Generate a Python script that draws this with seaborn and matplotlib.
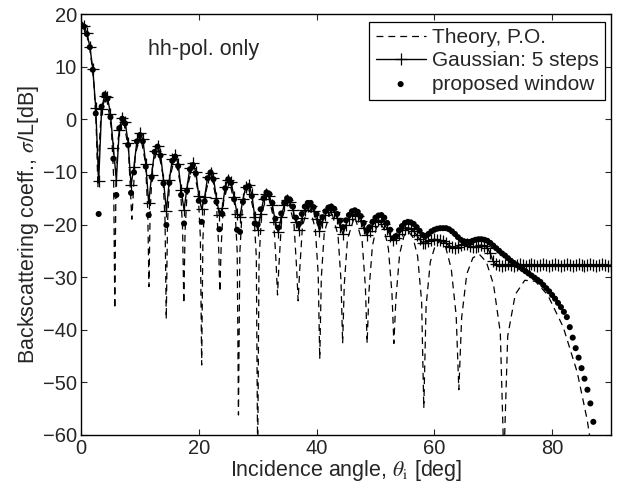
import numpy as np
import pandas as pd
import matplotlib
matplotlib.use("Agg")
import matplotlib.pyplot as plt
import seaborn as sns

# ---------------- data ----------------
# Theory, P.O. (dashed) : angle [deg], level [dB]
theory_angle = [
    0.00, 0.72, 1.43, 2.15, 2.58, 2.87,
    3.07, 3.44, 4.30, 5.16, 5.54, 5.74,
    5.94, 6.32, 7.18, 8.05, 8.43, 8.63,
    8.83, 9.21, 10.08, 10.95, 11.33, 11.54,
    11.74, 12.12, 13.00, 13.89, 14.27, 14.48,
    14.69, 15.07, 15.96, 16.86, 17.25, 17.46,
    17.67, 18.06, 18.97, 19.88, 20.27, 20.49,
    20.70, 21.10, 22.02, 22.96, 23.36, 23.58,
    23.80, 24.21, 25.15, 26.11, 26.52, 26.74,
    26.97, 27.39, 28.36, 29.34, 29.77, 30.00,
    30.23, 30.67, 31.67, 32.69, 33.13, 33.37,
    33.61, 34.06, 35.10, 36.16, 36.62, 36.87,
    37.12, 37.60, 38.68, 39.80, 40.28, 40.54,
    40.81, 41.31, 42.45, 43.64, 44.15, 44.43,
    44.71, 45.25, 46.47, 47.74, 48.29, 48.59,
    48.90, 49.48, 50.14, 50.81, 51.49, 52.20, 52.81, 53.13,
    53.47, 54.11, 54.84, 55.59, 56.35, 57.16, 57.84, 58.21,
    58.60, 59.32, 60.18, 61.05, 61.95, 62.87, 63.71, 64.16,
    64.64, 65.51, 66.56, 67.67, 68.83, 70.05, 71.20, 71.81,
    72.46, 73.74, 75.35, 77.16, 79.26, 81.89, 84.27, 85.95, 86.86,
]
theory_db = [
    18.0, 17.1, 14.1, 7.6, -1.2, -13.0,
    -5.8, 1.8, 4.5, -1.7, -10.9, -36.0,
    -11.6, -3.5, 0.0, -5.6, -14.6, -19.0,
    -15.1, -6.8, -3.0, -8.3, -17.2, -31.8,
    -17.6, -9.2, -5.2, -10.4, -19.2, -38.0,
    -19.7, -11.2, -7.1, -12.2, -20.9, -35.0,
    -21.4, -12.9, -8.7, -13.7, -22.4, -46.7,
    -22.8, -14.3, -10.1, -15.1, -23.8, -32.8,
    -24.2, -15.7, -11.4, -16.3, -25.0, -56.2,
    -25.4, -16.9, -12.6, -17.5, -26.1, -65.0,
    -26.7, -18.1, -13.8, -18.7, -27.3, -33.4,
    -27.8, -19.2, -14.9, -19.8, -28.4, -34.5,
    -29.0, -20.4, -16.0, -20.9, -29.5, -45.6,
    -30.1, -21.5, -17.2, -22.0, -30.6, -42.6,
    -31.4, -22.8, -18.4, -23.2, -31.8, -42.6,
    -32.7, -24.1, -20.7, -19.7, -20.9, -24.6, -33.2, -42.6,
    -34.2, -25.6, -22.2, -21.3, -22.4, -26.0, -34.6, -54.9,
    -35.5, -27.1, -23.9, -23.1, -24.4, -28.4, -37.3, -51.4,
    -37.7, -29.4, -26.3, -25.7, -27.1, -31.4, -40.5, -65.0,
    -41.2, -33.3, -30.6, -30.8, -33.4, -39.5, -48.1, -57.1, -63.7,
]

# sampled curves: one value every 0.5 deg from 0 to 90 deg
sample_angle = np.arange(0.0, 90.01, 0.5)

gaussian_db = [
    18.0, 17.7, 16.4, 13.8, 9.6, 2.2, -11.8, 2.0, 4.5, 4.2,          # 0 - 4.5
    1.0, -5.5, -11.5, -2.0, 0.3, -0.5, -4.5, -12.5, -9.0, -4.0,      # 5 - 9.5
    -2.7, -3.8, -8.5, -16.0, -10.5, -6.0, -5.1, -6.6, -11.5, -17.4,  # 10 - 14.5
    -11.6, -7.6, -6.8, -8.5, -13.5, -17.2, -13.0, -9.2, -8.4, -10.0, # 15 - 19.5
    -14.6, -17.1, -14.8, -11.0, -10.2, -11.2, -15.0, -18.2, -16.8, -12.8,  # 20 - 24.5
    -11.5, -12.0, -14.8, -18.0, -18.5, -15.2, -12.8, -12.5, -14.2, -18.5,  # 25 - 29.5
    -21.0, -18.0, -15.2, -14.2, -14.6, -16.3, -19.5, -21.5, -18.5, -16.3,  # 30 - 34.5
    -15.4, -15.8, -17.2, -19.6, -21.0, -18.8, -17.2, -16.4, -16.5, -17.4,  # 35 - 39.5
    -19.0, -21.2, -19.5, -18.1, -17.3, -17.1, -17.6, -18.8, -20.4, -21.8,  # 40 - 44.5
    -20.0, -18.9, -18.2, -18.0, -18.4, -19.3, -20.7, -22.0, -21.2, -20.2,  # 45 - 49.5
    -19.5, -19.2, -19.3, -19.9, -20.9, -22.1, -23.0, -22.6, -21.8, -21.1,  # 50 - 54.5
    -20.7, -20.6, -20.8, -21.3, -22.0, -22.8, -23.5, -23.6, -23.2, -22.9,  # 55 - 59.5
    -22.8, -22.9, -23.0, -23.2, -23.6, -24.0, -24.3, -24.4, -24.2, -23.9,  # 60 - 64.5
    -23.7, -23.8, -24.0, -24.3, -24.2, -24.0, -23.9, -24.1, -24.4, -25.5,  # 65 - 69.5
    -27.0, -27.6, -27.7, -27.8, -27.7, -27.6, -27.7, -27.8, -27.7, -27.6,  # 70 - 74.5
    -27.7, -27.8, -27.7, -27.6, -27.7, -27.8, -27.7, -27.6, -27.7, -27.8,  # 75 - 79.5
    -27.7, -27.6, -27.7, -27.8, -27.7, -27.6, -27.7, -27.8, -27.7, -27.6,  # 80 - 84.5
    -27.7, -27.8, -27.7, -27.6, -27.7, -27.8, -27.7, -27.6, -27.7, -27.8,  # 85 - 89.5
    -27.7,                                                                  # 90
]

window_db = [
    18.0, 17.6, 16.2, 13.7, 9.4, 1.1, -18.0, 2.4, 4.7, 3.9,           # 0 - 4.5
    0.4, -7.5, -14.4, -1.7, 0.1, -0.8, -4.9, -14.0, -10.1, -4.2,      # 5 - 9.5
    -3.0, -4.2, -9.0, -18.2, -11.0, -6.2, -5.2, -6.9, -12.2, -20.1,   # 10 - 14.5
    -12.1, -7.9, -7.1, -8.9, -14.4, -19.8, -13.6, -9.5, -8.7, -10.3,  # 15 - 19.5
    -15.5, -19.5, -15.6, -11.2, -10.1, -11.4, -15.7, -20.9, -18.0, -13.1,  # 20 - 24.5
    -11.4, -12.1, -15.2, -21.0, -21.4, -15.7, -13.0, -12.7, -14.6, -19.8,  # 25 - 29.5
    -20.0, -17.1, -15.0, -13.9, -14.2, -15.9, -18.9, -20.6, -17.9, -15.9,  # 30 - 34.5
    -15.0, -15.3, -16.6, -18.7, -19.9, -18.0, -16.6, -15.9, -15.9, -16.7,  # 35 - 39.5
    -18.0, -19.7, -18.6, -17.5, -16.8, -16.6, -17.0, -18.0, -19.3, -20.5,  # 40 - 44.5
    -19.2, -18.2, -17.5, -17.3, -17.6, -18.4, -19.7, -21.1, -20.5, -19.5,  # 45 - 49.5
    -18.7, -18.3, -18.2, -18.7, -19.7, -21.0, -22.6, -22.2, -21.1, -20.3,  # 50 - 54.5
    -19.7, -19.5, -19.6, -19.9, -20.5, -21.2, -22.0, -22.2, -21.8, -21.3,  # 55 - 59.5
    -21.0, -20.8, -20.7, -20.7, -20.7, -20.9, -21.3, -21.8, -22.4, -22.9,  # 60 - 64.5
    -23.2, -23.3, -23.3, -23.1, -22.9, -22.8, -22.8, -22.9, -23.1, -23.5,  # 65 - 69.5
    -24.0, -24.5, -25.0, -25.5, -25.9, -26.4, -26.9, -27.3, -27.7, -28.1,  # 70 - 74.5
    -28.5, -28.9, -29.3, -29.7, -30.1, -30.5, -30.9, -31.5, -32.1, -32.7,  # 75 - 79.5
    -33.4, -34.1, -34.9, -35.7, -36.6, -37.6, -39.5, -41.5, -43.5, -45.3,  # 80 - 84.5
    -47.3, -49.3, -51.4, -54.0, -57.5, -61.5, np.nan, np.nan, np.nan, np.nan,  # 85 - 89.5
    np.nan,                                                                  # 90
]

x_ticks = [0, 20, 40, 60, 80]
y_ticks = [-60, -50, -40, -30, -20, -10, 0, 10, 20]

# ---------------- figure ----------------
sns.set_style("ticks")
plt.rcParams["font.family"] = ["Liberation Sans", "DejaVu Sans"]
plt.rcParams["mathtext.fontset"] = "stix"

fig = plt.figure(figsize=(6.17, 4.97), dpi=100)
ax = fig.add_axes([81 / 617, 1 - 435 / 497, 530 / 617, 421 / 497])

theory_df = pd.DataFrame({"angle": theory_angle, "db": theory_db})
sample_df = pd.DataFrame({"angle": sample_angle, "gauss": gaussian_db, "win": window_db})

sns.lineplot(data=theory_df, x="angle", y="db", ax=ax, color="k", lw=0.9,
             linestyle="--", sort=False, estimator=None, label="Theory, P.O.")
ax.lines[-1].set_dashes([5.5, 4])
sns.lineplot(data=sample_df, x="angle", y="gauss", ax=ax, color="k", lw=1.0,
             marker="+", markersize=9, markeredgewidth=0.9,
             markeredgecolor="k", markerfacecolor="k", estimator=None,
             label="Gaussian: 5 steps")
sns.scatterplot(data=sample_df.dropna(), x="angle", y="win", ax=ax, color="k",
                s=19, edgecolor="none", label="proposed window", zorder=4)

ax.set_xlim(0, 90)
ax.set_ylim(-60, 20)
ax.set_xticks(x_ticks)
ax.set_yticks(y_ticks)
ax.tick_params(direction="in", top=True, right=True, length=4, width=0.8,
               labelsize=14.5, pad=3)
for s in ax.spines.values():
    s.set_linewidth(1.0)
    s.set_color("k")

ax.set_xlabel(r"Incidence angle, $\theta_{\rm i}$ [deg]", fontsize=15.5, labelpad=0)
ax.set_ylabel(r"Backscattering coeff., $\sigma$/L[dB]", fontsize=15.5, labelpad=1)

ax.text(11.4, 13.3, "hh-pol. only", fontsize=15.5, va="center", ha="left")

leg = ax.legend(loc="upper right", bbox_to_anchor=(0.9887, 0.981),
                borderaxespad=0, frameon=True, fancybox=False, edgecolor="k",
                framealpha=1, fontsize=15, handlelength=2.4, handletextpad=0.3,
                borderpad=0.3, labelspacing=0.2)
leg.get_frame().set_linewidth(0.9)

fig.savefig("out.png", dpi=100)
